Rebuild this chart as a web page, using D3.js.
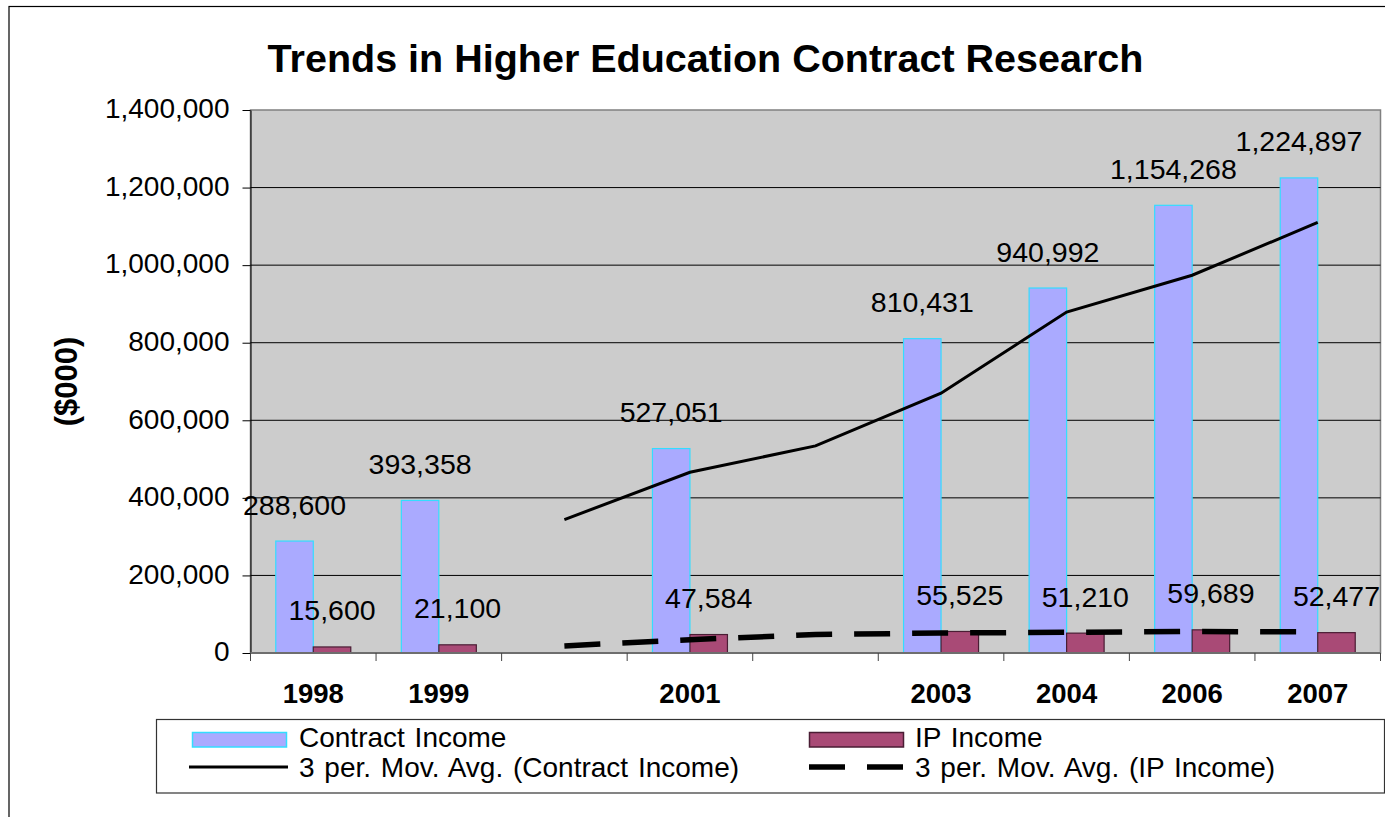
<!DOCTYPE html>
<html>
<head>
<meta charset="utf-8">
<script src="https://cdn.jsdelivr.net/npm/d3@7"></script>
<style>
  body { margin: 0; background: #fff; }
  text { font-family: "Liberation Sans", Arial, sans-serif; fill: #000; }
</style>
</head>
<body>
<div id="chart"></div>
<script>
// categories (2000 and 2002 have no bars, only moving-average points)
const years = ["1998", "1999", "2000", "2001", "2002", "2003", "2004", "2006", "2007"]
const yearLabels = ["1998", "1999", "", "2001", "", "2003", "2004", "2006", "2007"]
const contractIncome = [288600, 393358, null, 527051, null, 810431, 940992, 1154268, 1224897]
const ipIncome = [15600, 21100, null, 47584, null, 55525, 51210, 59689, 52477]
// 3 period moving averages
const contractAvg = [null, null, 344000, 466000, 534000, 670000, 879000, 974000, 1110000]
const ipAvg = [null, null, 18350, 34342, 47584, 51555, 53368, 55475, 54459]
const yTicks = [0, 200000, 400000, 600000, 800000, 1000000, 1200000, 1400000]

const W = 1385, H = 817
const plot = { left: 250.5, right: 1380.5, top: 110, bottom: 653 }
const barW = 37.5
const fmt = d3.format(",")

const svg = d3.select("#chart").append("svg")
  .attr("width", W)
  .attr("height", H)

// outer chart border (runs past the picture edge)
svg.append("rect")
  .attr("x", 9).attr("y", 6.5)
  .attr("width", W + 20).attr("height", H + 20)
  .attr("fill", "#fff").attr("stroke", "#000").attr("stroke-width", 1.2)

svg.append("text")
  .attr("x", 705.5).attr("y", 72)
  .attr("text-anchor", "middle")
  .attr("font-size", "39.5px").attr("font-weight", "bold")
  .text("Trends in Higher Education Contract Research")

const x = d3.scaleBand()
  .domain(years)
  .range([plot.left, plot.right])

const y = d3.scaleLinear()
  .domain([0, 1400000])
  .range([plot.bottom, plot.top])

const cx = d => x(d) + x.bandwidth() / 2

// plot area
svg.append("rect")
  .attr("x", plot.left).attr("y", plot.top)
  .attr("width", plot.right - plot.left).attr("height", plot.bottom - plot.top)
  .attr("fill", "#cccccc").attr("stroke", "#808080").attr("stroke-width", 1.5)

// gridlines
svg.append("g")
  .selectAll("line")
  .data(yTicks.filter(t => t > 0 && t < 1400000))
  .join("line")
  .attr("x1", plot.left).attr("x2", plot.right)
  .attr("y1", d => y(d)).attr("y2", d => y(d))
  .attr("stroke", "#000").attr("stroke-width", 1)

// y axis
const gy = svg.append("g")
  .attr("transform", `translate(${plot.left},0)`)
  .call(d3.axisLeft(y).tickValues(yTicks).tickFormat(fmt).tickSize(8).tickPadding(13).tickSizeOuter(0))
gy.select(".domain").attr("stroke", "#000")
gy.selectAll(".tick line").attr("stroke", "#000")
gy.selectAll(".tick text")
  .attr("font-size", "28px")
  .attr("font-family", "Liberation Sans, Arial, sans-serif")
  .attr("dy", "0.28em")

svg.append("text")
  .attr("transform", `translate(77,381.5) rotate(-90)`)
  .attr("text-anchor", "middle")
  .attr("font-size", "31px").attr("font-weight", "bold")
  .text("($000)")

// bars
const rows = years.map((d, i) => ({ year: d, contract: contractIncome[i], ip: ipIncome[i] }))

svg.append("g")
  .selectAll("rect")
  .data(rows.filter(d => d.contract != null))
  .join("rect")
  .attr("x", d => cx(d.year) - barW)
  .attr("y", d => y(d.contract))
  .attr("width", barW)
  .attr("height", d => y(0) - y(d.contract))
  .attr("fill", "#aaaaff").attr("stroke", "#33ddff").attr("stroke-width", 1.2)

svg.append("g")
  .selectAll("rect")
  .data(rows.filter(d => d.ip != null))
  .join("rect")
  .attr("x", d => cx(d.year))
  .attr("y", d => y(d.ip))
  .attr("width", barW)
  .attr("height", d => y(0) - y(d.ip))
  .attr("fill", "#a94a76").attr("stroke", "#4a1d34").attr("stroke-width", 1.2)

// x axis
svg.append("line")
  .attr("x1", plot.left).attr("x2", plot.right)
  .attr("y1", plot.bottom).attr("y2", plot.bottom)
  .attr("stroke", "#6e6e6e").attr("stroke-width", 2)
svg.append("g")
  .selectAll("line")
  .data(years.concat(["end"]))
  .join("line")
  .attr("x1", (d, i) => plot.left + i * x.step())
  .attr("x2", (d, i) => plot.left + i * x.step())
  .attr("y1", plot.bottom).attr("y2", plot.bottom + 8)
  .attr("stroke", "#444")
svg.append("g")
  .selectAll("text")
  .data(years)
  .join("text")
  .attr("x", d => cx(d))
  .attr("y", 703)
  .attr("text-anchor", "middle")
  .attr("font-size", "27.5px").attr("font-weight", "bold")
  .text((d, i) => yearLabels[i])

// moving averages
const line = d3.line()
  .defined(d => d.v != null)
  .x(d => cx(d.year))
  .y(d => y(d.v))

svg.append("path")
  .datum(years.map((d, i) => ({ year: d, v: contractAvg[i] })))
  .attr("d", line)
  .attr("fill", "none").attr("stroke", "#000").attr("stroke-width", 3)

svg.append("path")
  .datum(years.map((d, i) => ({ year: d, v: ipAvg[i] })))
  .attr("d", line)
  .attr("fill", "none").attr("stroke", "#000").attr("stroke-width", 5.5)
  .attr("stroke-dasharray", "36,22")

// data labels
svg.append("g")
  .selectAll("text")
  .data(rows.filter(d => d.contract != null))
  .join("text")
  .attr("x", d => cx(d.year) - barW / 2)
  .attr("y", d => y(d.contract) - 26.5)
  .attr("text-anchor", "middle")
  .attr("font-size", "28.5px")
  .text(d => fmt(d.contract))

svg.append("g")
  .selectAll("text")
  .data(rows.filter(d => d.ip != null))
  .join("text")
  .attr("x", d => cx(d.year) + barW / 2)
  .attr("y", d => y(d.ip) - 26.5)
  .attr("text-anchor", "middle")
  .attr("font-size", "28.5px")
  .text(d => fmt(d.ip))

// legend
const gLegend = svg.append("g")
gLegend.append("rect")
  .attr("x", 156.5).attr("y", 719.5)
  .attr("width", 1228).attr("height", 73.5)
  .attr("fill", "#fff").attr("stroke", "#333").attr("stroke-width", 1.2)

gLegend.append("rect")
  .attr("x", 192.5).attr("y", 732.5).attr("width", 94).attr("height", 14.5)
  .attr("fill", "#aaaaff").attr("stroke", "#33ddff").attr("stroke-width", 1.5)
gLegend.append("rect")
  .attr("x", 809.5).attr("y", 732.5).attr("width", 94).attr("height", 14.5)
  .attr("fill", "#a94a76").attr("stroke", "#4a1d34").attr("stroke-width", 1.5)
gLegend.append("line")
  .attr("x1", 189).attr("x2", 288).attr("y1", 767).attr("y2", 767)
  .attr("stroke", "#000").attr("stroke-width", 3)
gLegend.append("line")
  .attr("x1", 809).attr("x2", 903).attr("y1", 767).attr("y2", 767)
  .attr("stroke", "#000").attr("stroke-width", 5.5)
  .attr("stroke-dasharray", "36,22")

const legendTexts = [
  { x: 299, y: 747, t: "Contract Income" },
  { x: 915, y: 747, t: "IP Income" },
  { x: 299, y: 777, t: "3 per. Mov. Avg. (Contract Income)" },
  { x: 915, y: 777, t: "3 per. Mov. Avg. (IP Income)" },
]
gLegend.selectAll("text.leg")
  .data(legendTexts)
  .join("text")
  .attr("class", "leg")
  .attr("x", d => d.x).attr("y", d => d.y)
  .attr("font-size", "28px")
  .attr("word-spacing", "2px")
  .text(d => d.t)
</script>
</body>
</html>
